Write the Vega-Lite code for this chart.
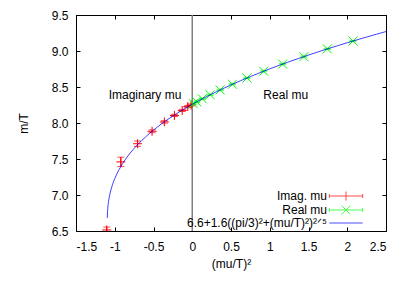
{
  "$schema": "https://vega.github.io/schema/vega-lite/v6.json",
  "width": 310,
  "height": 216,
  "autosize": {"type": "none"},
  "padding": {"left": 76, "top": 15, "right": 19, "bottom": 53},
  "config": {
    "font": "Liberation Sans",
    "view": {"stroke": "#000", "strokeWidth": 1},
    "axis": {
      "domain": false,
      "grid": false,
      "labelFont": "Liberation Sans",
      "labelFontSize": 12,
      "labelColor": "#000",
      "titleFont": "Liberation Sans",
      "titleFontSize": 12,
      "titleFontWeight": "normal",
      "titleColor": "#000",
      "tickColor": "#000",
      "tickSize": -4,
      "tickWidth": 1
    }
  },
  "datasets": {
    "points": [
      {"series": "Imag. mu", "x": -0.0144, "y": 8.25, "lo": 8.235, "hi": 8.265},
      {"series": "Imag. mu", "x": -0.0576, "y": 8.228, "lo": 8.213, "hi": 8.243},
      {"series": "Imag. mu", "x": -0.1296, "y": 8.175, "lo": 8.16, "hi": 8.19},
      {"series": "Imag. mu", "x": -0.2304, "y": 8.105, "lo": 8.09, "hi": 8.12},
      {"series": "Imag. mu", "x": -0.36, "y": 8.015, "lo": 7.998, "hi": 8.032},
      {"series": "Imag. mu", "x": -0.5184, "y": 7.885, "lo": 7.865, "hi": 7.905},
      {"series": "Imag. mu", "x": -0.7056, "y": 7.712, "lo": 7.675, "hi": 7.749},
      {"series": "Imag. mu", "x": -0.9216, "y": 7.46, "lo": 7.395, "hi": 7.525},
      {"series": "Imag. mu", "x": -1.103, "y": 6.515, "lo": 6.475, "hi": 6.555},
      {"series": "Real mu", "x": 0.0144, "y": 8.268, "lo": 8.26, "hi": 8.276},
      {"series": "Real mu", "x": 0.0576, "y": 8.295, "lo": 8.287, "hi": 8.303},
      {"series": "Real mu", "x": 0.1296, "y": 8.336, "lo": 8.328, "hi": 8.344},
      {"series": "Real mu", "x": 0.2304, "y": 8.392, "lo": 8.384, "hi": 8.4},
      {"series": "Real mu", "x": 0.36, "y": 8.46, "lo": 8.452, "hi": 8.468},
      {"series": "Real mu", "x": 0.5184, "y": 8.538, "lo": 8.53, "hi": 8.546},
      {"series": "Real mu", "x": 0.7056, "y": 8.625, "lo": 8.617, "hi": 8.633},
      {"series": "Real mu", "x": 0.9216, "y": 8.719, "lo": 8.711, "hi": 8.727},
      {"series": "Real mu", "x": 1.1664, "y": 8.818, "lo": 8.81, "hi": 8.826},
      {"series": "Real mu", "x": 1.44, "y": 8.922, "lo": 8.914, "hi": 8.93},
      {"series": "Real mu", "x": 1.7424, "y": 9.029, "lo": 9.021, "hi": 9.037},
      {"series": "Real mu", "x": 2.0736, "y": 9.138, "lo": 9.13, "hi": 9.146}
    ],
    "curve": [
      {"x": -1.096, "y": 6.682},
      {"x": -1.093, "y": 6.768},
      {"x": -1.09, "y": 6.815},
      {"x": -1.085, "y": 6.869},
      {"x": -1.08, "y": 6.911},
      {"x": -1.07, "y": 6.975},
      {"x": -1.06, "y": 7.026},
      {"x": -1.05, "y": 7.069},
      {"x": -1.03, "y": 7.141},
      {"x": -1.02, "y": 7.172},
      {"x": -1.0, "y": 7.228},
      {"x": -0.98, "y": 7.277},
      {"x": -0.95, "y": 7.342},
      {"x": -0.9, "y": 7.435},
      {"x": -0.85, "y": 7.514},
      {"x": -0.8, "y": 7.584},
      {"x": -0.75, "y": 7.647},
      {"x": -0.7, "y": 7.705},
      {"x": -0.65, "y": 7.759},
      {"x": -0.6, "y": 7.809},
      {"x": -0.55, "y": 7.857},
      {"x": -0.5, "y": 7.901},
      {"x": -0.45, "y": 7.944},
      {"x": -0.4, "y": 7.985},
      {"x": -0.35, "y": 8.024},
      {"x": -0.3, "y": 8.061},
      {"x": -0.25, "y": 8.097},
      {"x": -0.2, "y": 8.132},
      {"x": -0.15, "y": 8.165},
      {"x": -0.1, "y": 8.198},
      {"x": -0.05, "y": 8.229},
      {"x": 0.0, "y": 8.26},
      {"x": 0.1, "y": 8.319},
      {"x": 0.25, "y": 8.402},
      {"x": 0.375, "y": 8.467},
      {"x": 0.5, "y": 8.529},
      {"x": 0.625, "y": 8.588},
      {"x": 0.75, "y": 8.645},
      {"x": 0.875, "y": 8.699},
      {"x": 1.0, "y": 8.752},
      {"x": 1.125, "y": 8.802},
      {"x": 1.25, "y": 8.851},
      {"x": 1.375, "y": 8.898},
      {"x": 1.5, "y": 8.944},
      {"x": 1.625, "y": 8.988},
      {"x": 1.75, "y": 9.032},
      {"x": 1.875, "y": 9.073},
      {"x": 2.0, "y": 9.115},
      {"x": 2.125, "y": 9.155},
      {"x": 2.25, "y": 9.194},
      {"x": 2.375, "y": 9.232},
      {"x": 2.5, "y": 9.27}
    ],
    "notes": [
      {"x": -0.61, "y": 8.39, "text": "Imaginary mu"},
      {"x": 1.206, "y": 8.39, "text": "Real mu"}
    ]
  },
  "layer": [
    {
      "data": {"values": [{"x0": 0}]},
      "mark": {"type": "rule", "color": "#808080", "strokeWidth": 1.5},
      "encoding": {
        "x": {"field": "x0", "type": "quantitative", "scale": {"domain": [-1.5, 2.5], "nice": false, "zero": false},
          "axis": {"orient": "top", "values": [-1.5, -1, -0.5, 0, 0.5, 1, 1.5, 2, 2.5], "labels": false, "title": null}}
      }
    },
    {
      "data": {"name": "notes"},
      "mark": {"type": "text", "fontSize": 12, "font": "Liberation Sans", "color": "#000", "align": "center", "baseline": "middle"},
      "encoding": {
        "x": {"field": "x", "type": "quantitative", "axis": null},
        "y": {"field": "y", "type": "quantitative", "axis": null},
        "text": {"field": "text"}
      }
    },
    {
      "data": {"name": "points"},
      "mark": {"type": "rule", "strokeWidth": 1, "clip": true},
      "encoding": {
        "x": {"field": "x", "type": "quantitative", "axis": null},
        "y": {"field": "lo", "type": "quantitative", "axis": null},
        "y2": {"field": "hi"},
        "color": {"field": "series", "type": "nominal"}
      }
    },
    {
      "data": {"name": "points"},
      "mark": {"type": "tick", "orient": "horizontal", "size": 7, "thickness": 1, "clip": true},
      "encoding": {
        "x": {"field": "x", "type": "quantitative", "axis": null},
        "y": {"field": "lo", "type": "quantitative", "axis": null},
        "color": {"field": "series", "type": "nominal"}
      }
    },
    {
      "data": {"name": "points"},
      "mark": {"type": "tick", "orient": "horizontal", "size": 7, "thickness": 1, "clip": true},
      "encoding": {
        "x": {"field": "x", "type": "quantitative", "axis": null},
        "y": {"field": "hi", "type": "quantitative", "axis": null},
        "color": {"field": "series", "type": "nominal"}
      }
    },
    {
      "data": {"name": "points"},
      "mark": {"type": "point", "filled": false, "size": 81, "strokeWidth": 1, "opacity": 1, "clip": true},
      "encoding": {
        "x": {"field": "x", "type": "quantitative", "axis": null},
        "y": {"field": "y", "type": "quantitative",
          "axis": {"orient": "right", "values": [6.5, 7, 7.5, 8, 8.5, 9, 9.5], "labels": false, "title": null}},
        "shape": {"field": "series", "type": "nominal", "legend": null,
          "scale": {"domain": ["Imag. mu", "Real mu"], "range": ["M-1,0H1M0,-1V1", "M-1,-1L1,1M-1,1L1,-1"]}},
        "color": {"field": "series", "type": "nominal",
          "scale": {"domain": ["Imag. mu", "Real mu", "6.6+1.6((pi/3)²+(mu/T)²)²ᐟ⁵"], "range": ["#ff0000", "#00ff00", "#0000ff"]},
          "legend": {
            "title": null,
            "orient": "none",
            "legendX": 264,
            "legendY": 175,
            "padding": 0,
            "rowPadding": 0,
            "labelFont": "Liberation Sans",
            "labelFontSize": 12,
            "labelColor": "#000",
            "labelAlign": "right",
            "labelOffset": -25,
            "labelLimit": 300,
            "symbolSize": 100,
            "symbolStrokeWidth": 1,
            "symbolFillColor": "transparent",
            "symbolType": {"expr": "datum.value == 'Imag. mu' ? 'M-3.33,0H3.33M-3.33,-0.4V0.4M3.33,-0.4V0.4M0,-0.9V0.9' : datum.value == 'Real mu' ? 'M-3.33,0H3.33M-3.33,-0.4V0.4M3.33,-0.4V0.4M-0.9,-0.9L0.9,0.9M-0.9,0.9L0.9,-0.9' : 'M-3.33,0H3.33'"}
          }
        }
      }
    },
    {
      "data": {"name": "curve"},
      "mark": {"type": "line", "strokeWidth": 1, "opacity": 0.75, "clip": true},
      "encoding": {
        "x": {"field": "x", "type": "quantitative",
          "axis": {"orient": "bottom", "values": [-1.5, -1, -0.5, 0, 0.5, 1, 1.5, 2, 2.5], "labelExpr": "toString(datum.value)", "labelPadding": 14, "title": "(mu/T)²", "titlePadding": 6}},
        "y": {"field": "y", "type": "quantitative", "scale": {"domain": [6.5, 9.5], "nice": false, "zero": false},
          "axis": {"orient": "left", "values": [6.5, 7, 7.5, 8, 8.5, 9, 9.5], "labelPadding": 12, "title": "m/T", "titlePadding": 21}},
        "color": {"datum": "6.6+1.6((pi/3)²+(mu/T)²)²ᐟ⁵", "type": "nominal"}
      }
    }
  ],
  "resolve": {"axis": {"x": "independent", "y": "independent"}}
}
